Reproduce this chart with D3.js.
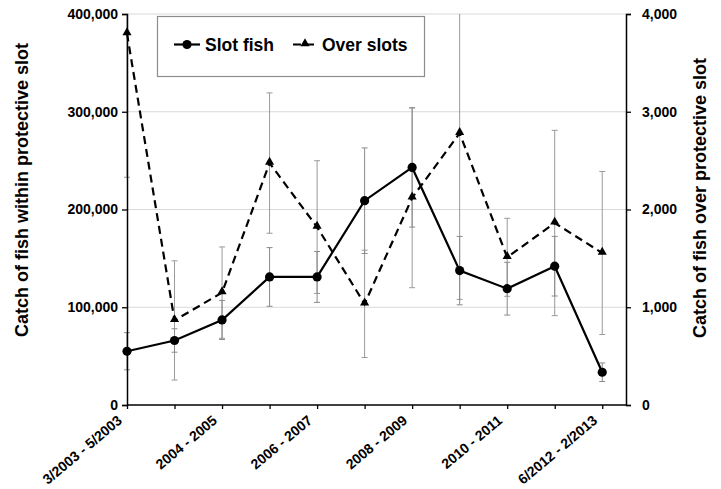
<!DOCTYPE html>
<html>
<head>
<meta charset="utf-8">
<script src="https://cdn.jsdelivr.net/npm/d3@7"></script>
<style>
  body { margin: 0; background: #fff; }
  text { font-family: "Liberation Sans", Arial, sans-serif; font-weight: bold; fill: #000; }
</style>
</head>
<body>
<div id="chart"></div>
<script>
// periods (every other one is labelled on the axis)
const periods = ["3/2003 - 5/2003", "2003 - 2004", "2004 - 2005", "2005 - 2006", "2006 - 2007",
    "2007 - 2008", "2008 - 2009", "2009 - 2010", "2010 - 2011", "2011 - 2012", "6/2012 - 2/2013"];

// catch within protective slot (left axis) and error
const slotFish = [55000, 66000, 87000, 131000, 131000, 209000, 243000, 137500, 119000, 142000, 33500];
const slotErr = [19000, 12000, 20000, 30000, 26000, 54000, 61000, 35000, 27000, 30500, 9500];

// catch over protective slot (right axis) and error
const overSlots = [3800, 865, 1150, 2475, 1820, 1035, 2120, 2780, 1511, 1862, 1555];
const overErr = [1470, 610, 467, 718, 679, 549, 920, 1700, 399, 948, 834];

const leftTicks = [0, 100000, 200000, 300000, 400000];
const rightTicks = [0, 1000, 2000, 3000, 4000];

let margin = {top: 14, right: 95, bottom: 84, left: 127};
let width = 721 - margin.left - margin.right;
let height = 489 - margin.top - margin.bottom;

let svg = d3.select("#chart").append("svg")
    .attr("width", 721)
    .attr("height", 489)
    .append("g")
    .attr("transform", "translate(" + margin.left + "," + margin.top + ")");

// points sit on ticks, last point half a step before the right axis
let step = width / (periods.length - 0.5);
let x = d3.scalePoint()
    .domain(periods)
    .range([0, step * (periods.length - 1)]);

let yLeft = d3.scaleLinear().domain([0, 400000]).range([height, 0]);
let yRight = d3.scaleLinear().domain([0, 4000]).range([height, 0]);

let fmt = d3.format(",");

// gridlines
svg.append("g")
    .selectAll("line")
    .data(leftTicks.filter(d => d > 0))
    .enter()
    .append("line")
    .attr("x1", 0)
    .attr("x2", width)
    .attr("y1", d => yLeft(d))
    .attr("y2", d => yLeft(d))
    .attr("stroke", "#d9d9d9")
    .attr("stroke-width", 1);

svg.append("clipPath")
    .attr("id", "plotclip")
    .append("rect")
    .attr("x", -10)
    .attr("y", 0)
    .attr("width", width + 20)
    .attr("height", height);

let plot = svg.append("g").attr("clip-path", "url(#plotclip)");

// error bars
function errorBars(vals, errs, scale, color) {
    let g = plot.append("g")
        .attr("stroke", color)
        .attr("stroke-width", 1)
        .attr("fill", "none");
    vals.forEach(function(v, i) {
        let cx = x(periods[i]);
        let hi = scale(v + errs[i]);
        let lo = scale(v - errs[i]);
        g.append("line").attr("x1", cx).attr("x2", cx).attr("y1", hi).attr("y2", lo);
        g.append("line").attr("x1", cx - 3).attr("x2", cx + 3).attr("y1", hi).attr("y2", hi);
        g.append("line").attr("x1", cx - 3).attr("x2", cx + 3).attr("y1", lo).attr("y2", lo);
    });
}
errorBars(overSlots, overErr, yRight, "#9a9a9a");
errorBars(slotFish, slotErr, yLeft, "#8a8a8a");

// lines
let lineOver = d3.line()
    .x((d, i) => x(periods[i]))
    .y(d => yRight(d));
let lineSlot = d3.line()
    .x((d, i) => x(periods[i]))
    .y(d => yLeft(d));

plot.append("path")
    .datum(overSlots)
    .attr("d", lineOver)
    .attr("fill", "none")
    .attr("stroke", "#000")
    .attr("stroke-width", 2.2)
    .attr("stroke-dasharray", "8,5");

plot.append("path")
    .datum(slotFish)
    .attr("d", lineSlot)
    .attr("fill", "none")
    .attr("stroke", "#000")
    .attr("stroke-width", 2.2);

// markers
let tri = d3.symbol().type(d3.symbolTriangle).size(36);
plot.selectAll(".tri")
    .data(overSlots)
    .enter()
    .append("path")
    .attr("class", "tri")
    .attr("d", tri)
    .attr("transform", (d, i) => "translate(" + x(periods[i]) + "," + (yRight(d) - 1) + ")")
    .attr("fill", "#000");

plot.selectAll(".dot")
    .data(slotFish)
    .enter()
    .append("circle")
    .attr("class", "dot")
    .attr("cx", (d, i) => x(periods[i]))
    .attr("cy", d => yLeft(d))
    .attr("r", 4.6)
    .attr("fill", "#000");

// axes
let xAxis = d3.axisBottom(x).tickSize(4).tickFormat("");
let leftAxis = d3.axisLeft(yLeft).tickValues(leftTicks).tickSize(5).tickFormat(fmt);
let rightAxis = d3.axisRight(yRight).tickValues(rightTicks).tickSize(5).tickFormat(fmt);

let gx = svg.append("g")
    .attr("transform", "translate(0," + height + ")")
    .call(xAxis);
gx.select(".domain").attr("d", "M0,0H" + width);
gx.selectAll(".tick text").remove();

let gl = svg.append("g").call(leftAxis);
let gr = svg.append("g").attr("transform", "translate(" + width + ",0)").call(rightAxis);

[gx, gl, gr].forEach(function(g) {
    g.select(".domain").attr("stroke", "#000").attr("stroke-width", 1.5);
    g.selectAll(".tick line").attr("stroke", "#000").attr("stroke-width", 1.3);
});
gl.selectAll(".tick text").attr("x", -9).style("font-size", "14px").attr("font-family", null);
gr.selectAll(".tick text").attr("x", 16).style("font-size", "14px").attr("font-family", null);

// x tick labels, rotated, every other period
let xLabels = svg.append("g")
    .selectAll("g")
    .data(periods.filter((d, i) => i % 2 === 0))
    .enter()
    .append("g")
    .attr("transform", d => "translate(" + (x(d) - 4) + "," + (height + 17) + ") rotate(-40)");

xLabels.append("text")
    .attr("text-anchor", "end")
    .style("font-size", "14px")
    .text(d => d);

// axis titles
svg.append("text")
    .attr("transform", "translate(" + (28 - margin.left) + "," + (190 - margin.top) + ") rotate(-90)")
    .attr("text-anchor", "middle")
    .style("font-size", "18px")
    .text("Catch of fish within protective slot");

svg.append("text")
    .attr("transform", "translate(" + (706 - margin.left) + "," + (198 - margin.top) + ") rotate(-90)")
    .attr("text-anchor", "middle")
    .style("font-size", "18px")
    .text("Catch of fish over protective slot");

// legend
let legend = svg.append("g").attr("transform", "translate(" + (157 - margin.left) + "," + (16 - margin.top) + ")");
legend.append("rect")
    .attr("x", 0.5)
    .attr("y", 0.5)
    .attr("width", 267)
    .attr("height", 60)
    .attr("fill", "#fff")
    .attr("stroke", "#8c8c8c")
    .attr("stroke-width", 1.2);

legend.append("line")
    .attr("x1", 17).attr("x2", 43).attr("y1", 28.5).attr("y2", 28.5)
    .attr("stroke", "#000").attr("stroke-width", 2.2);
legend.append("circle")
    .attr("cx", 30).attr("cy", 28.5).attr("r", 4.6).attr("fill", "#000");
legend.append("text")
    .attr("x", 48).attr("y", 34.5)
    .style("font-size", "17.5px")
    .text("Slot fish");

legend.append("line")
    .attr("x1", 136).attr("x2", 160).attr("y1", 28.5).attr("y2", 28.5)
    .attr("stroke", "#000").attr("stroke-width", 2.2)
    .attr("stroke-dasharray", "8,5");
legend.append("path")
    .attr("d", tri)
    .attr("transform", "translate(148,27.5)")
    .attr("fill", "#000");
legend.append("text")
    .attr("x", 165).attr("y", 34.5)
    .style("font-size", "17.5px")
    .text("Over slots");
</script>
</body>
</html>
